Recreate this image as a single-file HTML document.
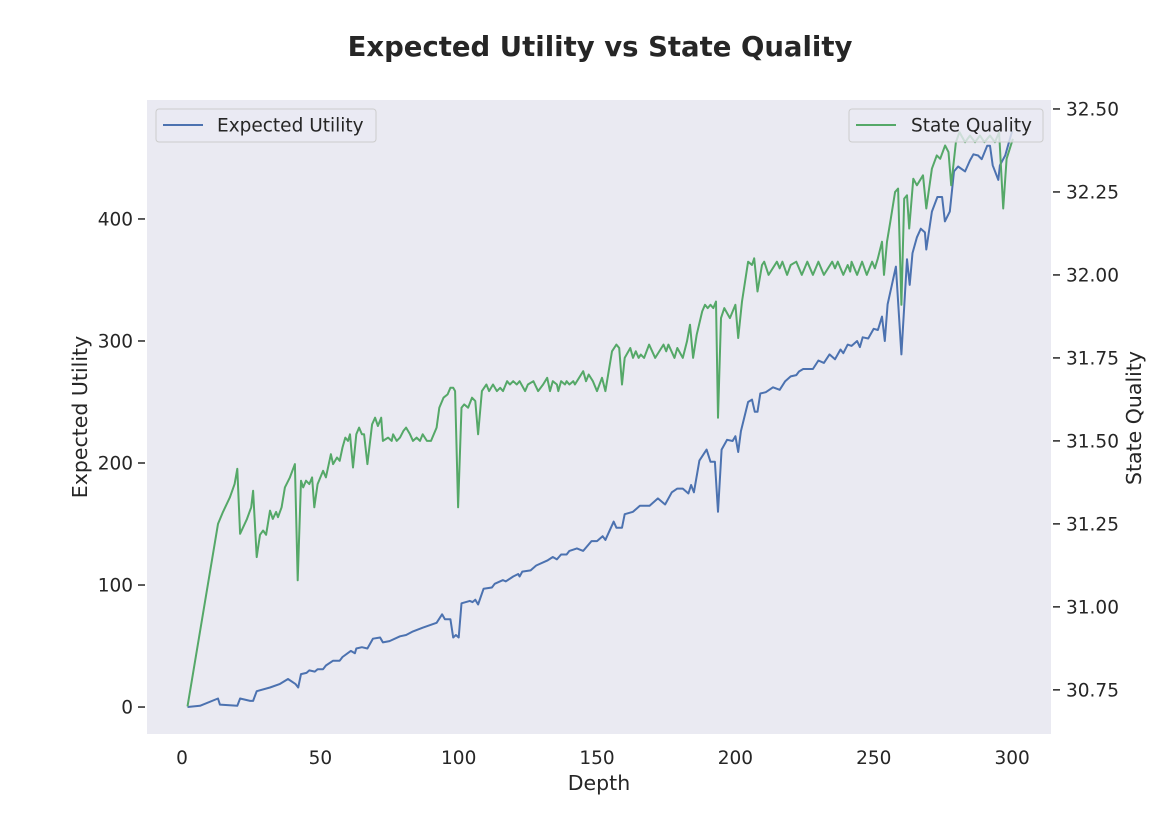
<!DOCTYPE html>
<html><head><meta charset="utf-8"><style>
body{margin:0;background:#fff;}
svg{display:block;font-family:"DejaVu Sans","Liberation Sans",sans-serif;}
</style></head><body>
<svg id="chart" width="1170" height="827" xmlns="http://www.w3.org/2000/svg">
<rect x="0" y="0" width="1170" height="827" fill="#fff"/>
<text x="600" y="56" text-anchor="middle" font-size="27.5" font-weight="bold" fill="#262626">Expected Utility vs State Quality</text>
<rect x="147" y="100" width="904" height="634" fill="#eaeaf2"/>
<g id="axes"></g>
<g id="lines"></g>
<g id="legends"></g>
</svg>
<script>
const depthU=[2,6.5,13,13.7,20,21,24.6,25.7,27,31.8,35.4,38.3,41,42,43,45,46,48,49,51,52,54.6,57,58,61,62.5,63,65,67,69,71.6,72.6,75,78.8,81,83.5,87,90.7,92,94,95,97,98,99,100,101,104,105,106,107,109,112,113,116,117,119.7,121.5,122,123,126,128,132,134,135.5,137,139,140,142.7,145,148,150,152,153,156,157,159,160,163,165.5,169,172,174.6,177,179,181,183,184,185,187,189.6,191,192.6,193.7,195,197,199,200,201,202,204.6,206,207,208,209,211,213.6,216,218,220,222,223,224.5,228,230,232,234,236,238,239,240.6,242,244,245,246,248,250,251.5,253,254,255,258,260,262,263,264,265.6,267,268.5,269,271,273,274.7,275.7,277.5,279,280.5,283,284.8,286,287.7,289,291,292,293,295,295.6,297.5,300];
const utility=[0,1,7,2,1,7,5,5,13,16,19,23,19,16,27,28,30,29,31,31,34,38,38,41,46,44,48,49,48,56,57,53,54,58,59,62,65,68,69,76,72,72,57,59,57,85,87,86,88,84,97,98,101,104,103,107,109,107,111,112,116,120,123,121,125,125,128,130,128,136,136,140,137,152,147,147,158,160,165,165,171,166,176,179,179,175,182,176,202,211,201,201,160,211,219,218,222,209,226,250,252,242,242,257,258,262,260,267,271,272,275,277,277,284,282,289,285,293,290,297,296,300,295,303,302,310,309,320,300,330,361,289,367,346,372,385,392,389,375,406,418,418,398,406,439,443,439,448,453,452,449,460,460,444,432,444,452,472];
const depthQ=[2,13,14.8,17.3,19,20,21,23.5,25,25.7,27,28.2,29.3,30.4,31.8,32.8,34,34.7,36,37.2,39,40.8,41.8,43,43.8,44.8,46,47,47.8,49,51,52,53.8,54.6,56,57,58,59,60,60.7,61.8,63,64,65,65.8,67,68.7,69.8,70.8,72,72.6,74.5,75.8,76.3,77.6,78.8,80,81,82.4,83.5,84.8,86,87,88.5,90,92,93,94.5,96,97,98,98.7,99.8,101,102,103.4,104.8,106,107,108.4,110,111,112.4,113.8,115,116,117.5,118.5,119.7,121,122,124,125,127,128.7,130.5,132,133,134,135.5,136,137,138.4,139,140,141.4,142,145,146,147,148.5,150,151.8,153,155.4,157,158,159,160,162,163,164,165,165.8,167,168.8,171,174,175,175.8,178,179,181,182.5,183.6,184.7,186,188,189,190,191,192,193,193.7,194.8,196,198,200,201,202.4,204.6,206,206.8,208,209.6,210.4,212,215,216,217,218.7,220,222,224,226,228,230,232,235,236,237,239,240.6,241.5,242,244,245.8,247.5,249.4,250.4,251.5,253,253.7,254.8,256,257.7,258.8,260,261,262,262.8,264.3,265.6,267.8,269,271,272.8,274,275.8,277,278,279.7,281,283,284.8,286.6,288.4,290,292,293.8,295.3,296.8,298,300.3];
const quality=[30.70,31.25,31.286,31.33,31.37,31.416,31.22,31.265,31.30,31.35,31.15,31.217,31.23,31.217,31.29,31.265,31.286,31.27,31.30,31.36,31.39,31.43,31.08,31.38,31.36,31.38,31.37,31.39,31.30,31.37,31.41,31.39,31.46,31.43,31.45,31.44,31.48,31.51,31.50,31.52,31.42,31.52,31.54,31.52,31.52,31.43,31.55,31.57,31.545,31.57,31.50,31.51,31.50,31.52,31.50,31.51,31.53,31.54,31.52,31.50,31.51,31.50,31.52,31.50,31.50,31.54,31.60,31.63,31.64,31.66,31.66,31.65,31.30,31.60,31.61,31.60,31.63,31.62,31.52,31.65,31.67,31.65,31.67,31.65,31.66,31.65,31.68,31.67,31.68,31.67,31.68,31.65,31.67,31.68,31.65,31.67,31.69,31.65,31.68,31.67,31.65,31.68,31.67,31.68,31.67,31.68,31.67,31.71,31.68,31.70,31.68,31.65,31.69,31.65,31.77,31.79,31.78,31.67,31.75,31.78,31.75,31.77,31.75,31.76,31.75,31.79,31.75,31.79,31.77,31.79,31.75,31.78,31.75,31.80,31.85,31.75,31.82,31.89,31.91,31.90,31.91,31.90,31.92,31.57,31.87,31.90,31.87,31.91,31.81,31.92,32.04,32.03,32.05,31.95,32.03,32.04,32.00,32.04,32.02,32.04,32.00,32.03,32.04,32.00,32.04,32.00,32.04,32.00,32.04,32.02,32.04,32.00,32.03,32.01,32.04,32.00,32.04,32.00,32.04,32.02,32.05,32.10,32.00,32.10,32.16,32.25,32.26,31.91,32.23,32.24,32.14,32.29,32.27,32.30,32.20,32.32,32.36,32.35,32.39,32.37,32.27,32.40,32.43,32.40,32.42,32.40,32.42,32.40,32.42,32.40,32.43,32.20,32.35,32.41];
const xTicks=[0,50,100,150,200,250,300];
const yLeftTicks=[0,100,200,300,400];
const yRightTicks=[30.75,31.00,31.25,31.50,31.75,32.00,32.25,32.50];

const PL=147,PR=1051,PT=100,PB=734;
const X0=-12.65,X1=314.06,YL0=-22.1,YL1=497.5,YR0=30.617,YR1=32.527;
const sx=d=>PL+(d-X0)/(X1-X0)*(PR-PL);
const syL=v=>PB-(v-YL0)/(YL1-YL0)*(PB-PT);
const syR=v=>PB-(v-YR0)/(YR1-YR0)*(PB-PT);
const NS="http://www.w3.org/2000/svg";
function mk(tag,attrs,parent,txt){const e=document.createElementNS(NS,tag);for(const k in attrs)e.setAttribute(k,attrs[k]);if(txt!==undefined)e.textContent=txt;parent.appendChild(e);return e;}
const axes=document.getElementById('axes'),lines=document.getElementById('lines'),leg=document.getElementById('legends');
xTicks.forEach(t=>{const e=mk('text',{x:sx(t),y:764,'text-anchor':'middle','font-size':18.5,fill:'#262626'},axes,String(t));

});
yLeftTicks.forEach(t=>{const y=syL(t);
const l=mk('line',{x1:138,x2:145,y1:y,y2:y,stroke:'#262626','stroke-width':1.5},axes);


const e=mk('text',{x:133,y:y+6.5,'text-anchor':'end','font-size':18.5,fill:'#262626'},axes,String(t));

});
yRightTicks.forEach(t=>{const y=syR(t);
const l=mk('line',{x1:1053,x2:1060,y1:y,y2:y,stroke:'#262626','stroke-width':1.5},axes);


const e=mk('text',{x:1066,y:y+6.5,'text-anchor':'start','font-size':18.5,fill:'#262626'},axes,t.toFixed(2));

});
let e=mk('text',{x:599,y:790,'text-anchor':'middle','font-size':20.5,fill:'#262626'},axes,'Depth');


e=mk('text',{x:0,y:0,'text-anchor':'middle','font-size':20.5,fill:'#262626',transform:'translate(87,417) rotate(-90)'},axes,'Expected Utility');


e=mk('text',{x:0,y:0,'text-anchor':'middle','font-size':20.5,fill:'#262626',transform:'translate(1141,418) rotate(-90)'},axes,'State Quality');



const pU=depthU.map((d,i)=>sx(d).toFixed(1)+','+syL(utility[i]).toFixed(1)).join(' ');
const lu=mk('polyline',{points:pU,fill:'none',stroke:'#4c72b0','stroke-width':2,'stroke-linejoin':'round'},lines);


let g=mk('g',{},lines);


mk('rect',{x:156,y:109,width:220,height:33,rx:3,fill:'#eaeaf2','fill-opacity':0.8,stroke:'#cccccc'},g);
mk('line',{x1:163,x2:203,y1:125,y2:125,stroke:'#4c72b0','stroke-width':2},g);
mk('text',{x:217,y:131.5,'font-size':18.5,fill:'#262626'},g,'Expected Utility');
const pQ=depthQ.map((d,i)=>sx(d).toFixed(1)+','+syR(quality[i]).toFixed(1)).join(' ');
const lq=mk('polyline',{points:pQ,fill:'none',stroke:'#55a868','stroke-width':2,'stroke-linejoin':'round'},lines);


g=mk('g',{},leg);


mk('rect',{x:849,y:109,width:194,height:33,rx:3,fill:'#eaeaf2','fill-opacity':0.8,stroke:'#cccccc'},g);
mk('line',{x1:856,x2:896,y1:125,y2:125,stroke:'#55a868','stroke-width':2},g);
mk('text',{x:911,y:131.5,'font-size':18.5,fill:'#262626'},g,'State Quality');
</script>
</body></html>
